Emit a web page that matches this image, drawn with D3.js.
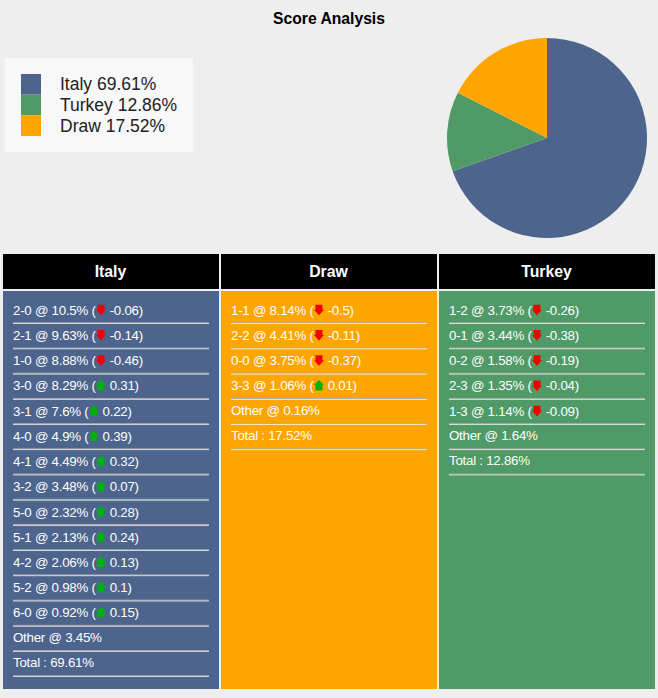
<!DOCTYPE html>
<html><head><meta charset="utf-8">
<script src="https://cdn.jsdelivr.net/npm/d3@7"></script>
<style>html,body{margin:0;padding:0;background:#eeeeee}svg{display:block}text{font-family:"Liberation Sans",Arial,sans-serif}</style>
</head><body><svg id="c" width="658" height="698"></svg>
<script>
const outcomes = ["Italy","Turkey","Draw"];
const shares = [69.61,12.86,17.52];
const columns = ["Italy","Draw","Turkey"];
const italyScores = ["2-0","2-1","1-0","3-0","3-1","4-0","4-1","3-2","5-0","5-1","4-2","5-2","6-0"];
const italyProbs = ["10.5","9.63","8.88","8.29","7.6","4.9","4.49","3.48","2.32","2.13","2.06","0.98","0.92"];
const italyDeltas = ["-0.06","-0.14","-0.46","0.31","0.22","0.39","0.32","0.07","0.28","0.24","0.13","0.1","0.15"];
const drawScores = ["1-1","2-2","0-0","3-3"];
const drawProbs = ["8.14","4.41","3.75","1.06"];
const drawDeltas = ["-0.5","-0.11","-0.37","0.01"];
const turkeyScores = ["1-2","0-1","0-2","2-3","1-3"];
const turkeyProbs = ["3.73","3.44","1.58","1.35","1.14"];
const turkeyDeltas = ["-0.26","-0.38","-0.19","-0.04","-0.09"];
const otherProbs = ["3.45","0.16","1.64"];
const totals = ["69.61","17.52","12.86"];
const colorOf = {Italy:"#4d648d",Turkey:"#4f9a67",Draw:"#ffa500"};

const svg = d3.select("#c");
svg.append("text").attr("x",329).attr("y",24).attr("text-anchor","middle")
  .attr("font-size",15.7).attr("font-weight","bold").attr("fill","#000").text("Score Analysis");

// legend
svg.append("rect").attr("x",5).attr("y",58).attr("width",188).attr("height",94).attr("fill","#f8f8f8");
const ly = d3.scaleBand().domain(outcomes).range([74,136]);
outcomes.forEach((o,i)=>{
  svg.append("rect").attr("x",21).attr("y",ly(o)).attr("width",20).attr("height",ly.bandwidth()).attr("fill",colorOf[o]);
  svg.append("text").attr("x",60).attr("y",ly(o)+ly.bandwidth()/2+6).attr("font-size",17.5).attr("fill","#222")
    .text(o+" "+shares[i].toFixed(2)+"%");
});

// pie
const pie = d3.pie().sort(null).value(d=>d)(shares);
const arc = d3.arc().innerRadius(0).outerRadius(100);
svg.append("g").attr("transform","translate(547,138)").selectAll("path").data(pie).join("path")
  .attr("d",arc).attr("fill",(d,i)=>colorOf[outcomes[i]]);

// columns
const cx = d3.scaleBand().domain(columns).range([3,655]).paddingInner(2/218).paddingOuter(0);
const rowY = d3.scaleLinear().domain([0,14]).range([322.8,675.8]);
const sets = {Italy:[italyScores,italyProbs,italyDeltas],Draw:[drawScores,drawProbs,drawDeltas],Turkey:[turkeyScores,turkeyProbs,turkeyDeltas]};

columns.forEach((c,ci)=>{
  const x0 = cx(c), w = cx.bandwidth();
  svg.append("rect").attr("x",x0).attr("y",254).attr("width",w).attr("height",35).attr("fill","#000");
  svg.append("text").attr("x",x0+w/2-0.5).attr("y",277).attr("text-anchor","middle").attr("font-size",15.8)
    .attr("font-weight","bold").attr("fill","#fff").text(c);
  svg.append("rect").attr("x",x0).attr("y",291).attr("width",w).attr("height",398).attr("fill",colorOf[c]);
  const [sc,pr,de] = sets[c];
  const rows = sc.map((s,i)=>({s,p:pr[i],d:de[i]}));
  rows.push({label:"Other @ "+otherProbs[ci]+"%"});
  rows.push({label:"Total : "+totals[ci]+"%"});
  rows.forEach((r,i)=>{
    const yLine = rowY(i), tx = x0+10, ty = yLine-8;
    const g = svg.append("g").attr("fill","#fff").attr("font-size",13.3).attr("letter-spacing",-0.25);
    if(r.label){ g.append("text").attr("x",tx).attr("y",ty-0.8).text(r.label); }
    else{
      const t1 = g.append("text").attr("x",tx).attr("y",ty).text(r.s+" @ "+r.p+"% (");
      const ax = tx + t1.node().getComputedTextLength();
      const up = +r.d>=0;
      const ac = ax+5.3, am = ty-5;
      const pts = up? [[0,-5.5],[5,-0.5],[3.5,-0.5],[3.5,5],[-3.5,5],[-3.5,-0.5],[-5,-0.5]]
                    : [[-3.5,-5],[3.5,-5],[3.5,0],[5,0],[0,5.5],[-5,0],[-3.5,0]];
      g.append("path").attr("d",d3.line().x(p=>ac+p[0]).y(p=>am+p[1]).curve(d3.curveLinearClosed)(pts))
        .attr("fill",up?"#00b010":"#f00000");
      g.append("text").attr("x",ax+14).attr("y",ty).text(r.d+")");
    }
    svg.append("rect").attr("x",x0+10).attr("y",yLine-0.5).attr("width",w-20).attr("height",1).attr("fill","#aaa");
    svg.append("rect").attr("x",x0+10).attr("y",yLine+0.5).attr("width",w-20).attr("height",0.7).attr("fill","#fff");
  });
});
</script></body></html>
